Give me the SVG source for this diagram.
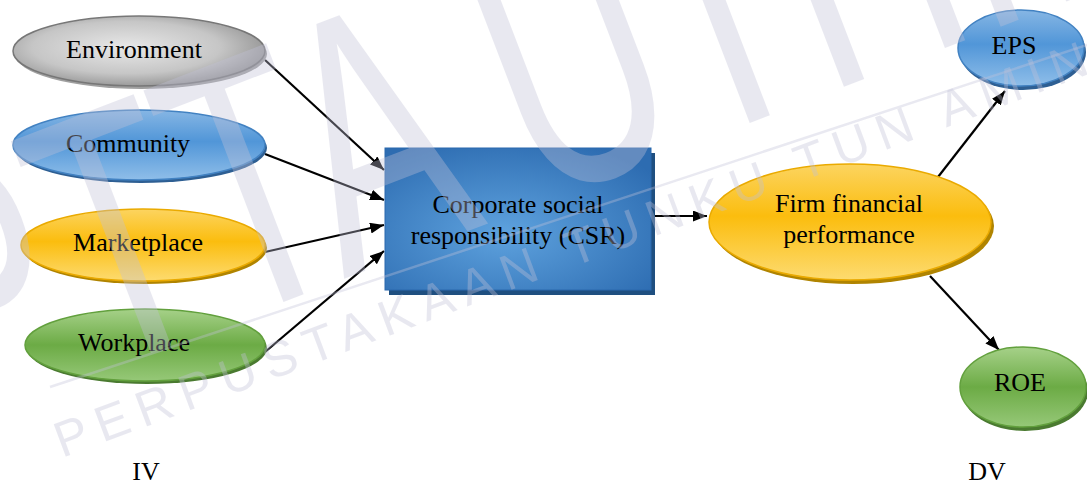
<svg xmlns="http://www.w3.org/2000/svg" width="1087" height="486" viewBox="0 0 1087 486">
<defs>
<radialGradient id="gGray" cx="0.45" cy="0.45" r="0.62">
<stop offset="0" stop-color="#e8e8e8"/><stop offset="0.6" stop-color="#c6c6c6"/><stop offset="1" stop-color="#8a8a8a"/>
</radialGradient>
<linearGradient id="gBlue" x1="0" y1="0" x2="0" y2="1">
<stop offset="0" stop-color="#86b6e4"/><stop offset="0.45" stop-color="#5196d8"/><stop offset="1" stop-color="#8fbee9"/>
</linearGradient>
<linearGradient id="gYellow" x1="0" y1="0" x2="0" y2="1">
<stop offset="0" stop-color="#fcd460"/><stop offset="0.45" stop-color="#fbbd0e"/><stop offset="1" stop-color="#fddb70"/>
</linearGradient>
<linearGradient id="gGreen" x1="0" y1="0" x2="0" y2="1">
<stop offset="0" stop-color="#a6d189"/><stop offset="0.5" stop-color="#6cab45"/><stop offset="1" stop-color="#96c878"/>
</linearGradient>
<radialGradient id="gRect" cx="0.45" cy="0.6" r="0.7">
<stop offset="0" stop-color="#5ea2de"/><stop offset="1" stop-color="#2d6cb1"/>
</radialGradient>
<marker id="arr" viewBox="0 0 14 11" refX="14" refY="5.5" markerWidth="14" markerHeight="11" markerUnits="userSpaceOnUse" orient="auto">
<path d="M0,0 L14,5.5 L0,11 z" fill="#000"/>
</marker>
<style>
.t{font-family:"Times New Roman","Liberation Serif","DejaVu Serif",serif;font-size:26px;fill:#000;text-anchor:middle}
.wm{font-family:"Liberation Sans",Arial,sans-serif;fill:#c2c2d8;opacity:0.36}
.c{stroke:#000;stroke-width:2.2;fill:none;marker-end:url(#arr)}
</style>
</defs>
<rect width="1087" height="486" fill="#fff"/>
<g id="connectors">
<line class="c" x1="265" y1="60" x2="384" y2="170"/>
<line class="c" x1="265" y1="154" x2="384" y2="200"/>
<line class="c" x1="265" y1="252" x2="384" y2="225"/>
<line class="c" x1="265" y1="352" x2="384" y2="251"/>
<line class="c" x1="652" y1="216" x2="707" y2="216"/>
<line class="c" x1="938" y1="177" x2="1005" y2="91"/>
<line class="c" x1="930" y1="276" x2="999" y2="350"/>
</g>
<g id="environment">
<ellipse cx="141" cy="54" rx="126" ry="35" fill="#a0a0a0"/>
<ellipse cx="139" cy="51" rx="126" ry="35" fill="url(#gGray)" stroke="#777" stroke-width="1.5"/>
<text class="t" x="134" y="58">Environment</text>
</g>
<g id="community">
<ellipse cx="141" cy="148" rx="126" ry="35" fill="#2e5f93"/>
<ellipse cx="139" cy="145" rx="126" ry="35" fill="url(#gBlue)" stroke="#4282c2" stroke-width="1.5"/>
<text class="t" x="128" y="152">Community</text>
</g>
<g id="marketplace">
<ellipse cx="145" cy="248" rx="122" ry="36" fill="#b08400"/>
<ellipse cx="143" cy="245" rx="122" ry="36" fill="url(#gYellow)" stroke="#eaaa00" stroke-width="1.5"/>
<text class="t" x="138" y="251">Marketplace</text>
</g>
<g id="workplace">
<ellipse cx="147" cy="348" rx="120" ry="36" fill="#4a7a30"/>
<ellipse cx="145" cy="345" rx="120" ry="36" fill="url(#gGreen)" stroke="#62a03d" stroke-width="1.5"/>
<text class="t" x="134" y="351">Workplace</text>
</g>
<g id="csr">
<rect x="389" y="153" width="266" height="142" fill="#1f4f80"/>
<rect x="385" y="148" width="266" height="142" fill="url(#gRect)" stroke="#2a68ad" stroke-width="1"/>
<text class="t" x="518" y="213">Corporate social</text>
<text class="t" x="518" y="244">responsibility (CSR)</text>
</g>
<g id="firm">
<ellipse cx="853" cy="226" rx="141" ry="58" fill="#b08400"/>
<ellipse cx="850" cy="222" rx="141" ry="58" fill="url(#gYellow)" stroke="#eaaa00" stroke-width="1.5"/>
<text class="t" x="849" y="212">Firm financial</text>
<text class="t" x="849" y="243">performance</text>
</g>
<g id="eps">
<ellipse cx="1023" cy="52" rx="63" ry="38" fill="#2e5f93"/>
<ellipse cx="1021" cy="48" rx="63" ry="38" fill="url(#gBlue)" stroke="#4282c2" stroke-width="1.5"/>
<text class="t" x="1014" y="54">EPS</text>
</g>
<g id="roe">
<ellipse cx="1025" cy="391" rx="63" ry="40" fill="#4a7a30"/>
<ellipse cx="1023" cy="387" rx="63" ry="40" fill="url(#gGreen)" stroke="#62a03d" stroke-width="1.5"/>
<text class="t" x="1020" y="391">ROE</text>
</g>
<g id="labels">
<text class="t" x="146" y="480">IV</text>
<text class="t" x="987" y="480">DV</text>
</g>
<g id="watermark">
<text class="wm" font-size="360" textLength="1300" lengthAdjust="spacingAndGlyphs" transform="translate(-50,430) rotate(-21)">PTTA UTHM</text>
<text class="wm" font-size="50" letter-spacing="10" transform="translate(62,458) rotate(-20.5)">PERPUSTAKAAN TUNKU TUN AMINAH</text>
<line x1="50" y1="387" x2="1087" y2="45" stroke="#c2c2d8" stroke-opacity="0.36" stroke-width="2.5"/>
</g>
</svg>
